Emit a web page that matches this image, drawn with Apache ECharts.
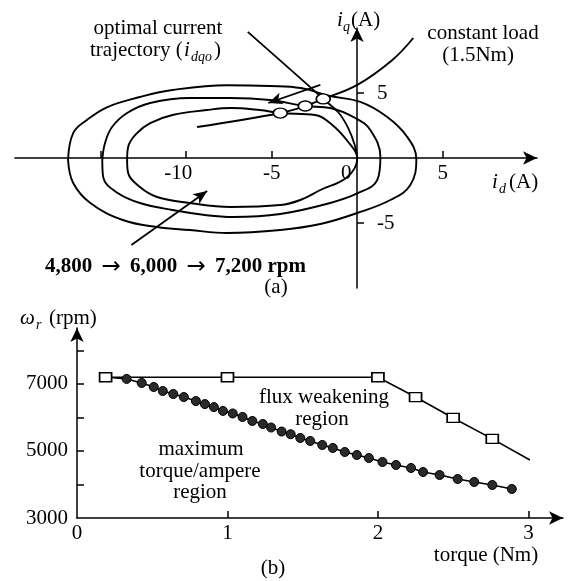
<!DOCTYPE html>
<html>
<head>
<meta charset="utf-8">
<script src="https://cdn.jsdelivr.net/npm/echarts/dist/echarts.min.js"></script>
<style>
html,body{margin:0;padding:0;background:#fff;}
#main{width:569px;height:581px;}
</style>
</head>
<body>
<div id="main"></div>
<script>
// (a) current plane: voltage limit ellipses [id, iq]
var ellipse4800 = [[-16.9,-0.15],[-16.6,1.92],[-15.8,2.92],[-14.6,3.92],[-12.7,4.69],[-10.8,5.23],[-7.6,5.6],[-5.1,5.54],[-3.3,5.38],[-1.6,4.77],[0.18,4.31],[1.75,3.15],[2.92,1.62],[3.45,-0.08],[3.1,-2.08],[1.93,-3.23],[0,-4.23],[-2.16,-5.08],[-4.5,-5.54],[-7.6,-5.77],[-9.8,-5.54],[-11.7,-5.31],[-13.7,-4.77],[-15.6,-3.46],[-16.6,-1.92],[-16.9,-0.15]];
var ellipse6000 = [[-14.9,-0.15],[-14.74,1.15],[-14.33,2.38],[-13.45,3.46],[-12.1,4.23],[-9.8,4.62],[-7.4,4.62],[-5.1,4.46],[-3.04,4.0],[-1.58,3.85],[-0.12,3.08],[0.76,2.15],[1.35,0.08],[1.17,-1.69],[0.06,-2.69],[-1.58,-3.46],[-4.5,-4.31],[-7.25,-4.54],[-8.8,-4.4],[-10.8,-4.0],[-12.7,-3.46],[-14.0,-2.69],[-14.85,-1.46],[-14.9,-0.15]];
var ellipse7200 = [[-13.45,-0.15],[-13.39,0.85],[-12.87,1.92],[-12.1,2.69],[-10.8,3.31],[-8.8,3.69],[-7.4,3.85],[-5.7,3.69],[-4.5,3.46],[-2.46,3.31],[-1.46,2.54],[-0.53,1.23],[0,0],[-0.58,-1.46],[-2.16,-2.46],[-3.33,-3.23],[-4.5,-3.62],[-7.4,-3.77],[-9.8,-3.46],[-11.7,-3.0],[-12.7,-2.23],[-13.39,-1.15],[-13.45,-0.15]];
var constantLoad = [[-9.36,2.38],[-4.5,3.46],[-3.04,4.0],[-1.99,4.54],[0,5.62],[2.05,7.54],[3.27,9.23]];
var optimalTrajectory = [[0,0],[-0.15,1.0],[-0.53,2.3],[-1.1,3.5],[-1.99,4.54],[-2.75,5.45],[-6.4,9.7]];
var operatingPoints = [[-1.99,4.54],[-3.04,4.0],[-4.5,3.46]];
var arrowTrajectory = [[-2.16,5.62],[-5.2,4.23]];
var arrowSpeed = [[-13.2,-6.7],[-8.77,-2.54]];
var idTicks = [-15,-10,-5,5];
var idLabels = [-10,-5,0,5];
var iqTicks = [-5,5];

// (b) speed vs torque
var mtpaTorque = [0.19,0.33,0.43,0.51,0.57,0.64,0.71,0.79,0.85,0.91,0.97,1.035,1.10,1.165,1.235,1.29,1.36,1.42,1.484,1.55,1.63,1.70,1.78,1.86,1.94,2.03,2.12,2.22,2.30,2.41,2.53,2.64,2.76,2.89];
var mtpaSpeed  = [7210,7150,7030,6910,6790,6700,6610,6490,6400,6310,6195,6120,6015,5896,5806,5700,5580,5500,5388,5299,5179,5090,4970,4881,4791,4672,4582,4493,4373,4284,4164,4075,3985,3866];
var fwTorque = [0.19,1.0,2.0,2.25,2.5,2.76,3.01];
var fwSpeed  = [7200,7200,7200,6610,5985,5360,4730];
var torqueTicks = [1,2,3];
var torqueLabels = [0,1,2,3];
var speedTicks = [4000,5000,6000,7000,8000];
var speedLabels = [3000,5000,7000];

var FONT = 'Liberation Serif';
var myChart = echarts.init(document.getElementById('main'), null, {renderer:'canvas'});

function pairs(xs, ys){
    var out = [];
    for (var i=0;i<xs.length;i++){ out.push([xs[i], ys[i]]); }
    return out;
}
var fwData = pairs(fwTorque, fwSpeed).map(function(p, i){
    return i === fwTorque.length-1 ? {value:p, symbol:'none'} : p;
});

function txt(x, y, s, opt){
    opt = opt || {};
    var el = {
        type:'text', x:x, y:y, silent:true,
        style:{
            text:s, fill:'#000',
            font:(opt.style||'normal')+' '+(opt.weight||'normal')+' '+(opt.size||21)+'px "'+FONT+'"',
            align:opt.align||'center', verticalAlign:'middle'
        }
    };
    if (opt.rich) el.style.rich = opt.rich;
    return el;
}

var axisCommon = {
    axisLine:{onZero:false, symbol:['none','arrow'], symbolSize:[10,14], lineStyle:{color:'#000', width:1.5}},
    axisTick:{inside:true, length:7, lineStyle:{color:'#000', width:1.5}},
    axisLabel:{color:'#000', fontFamily:FONT, fontSize:21, formatter:function(v){ return String(v); }},
    splitLine:{show:false}
};
function ax(extra){
    return echarts.util.merge(echarts.util.clone(axisCommon), extra, true);
}

var curveStyle = {color:'#000', width:1.9};

option = {
    animation:false,
    backgroundColor:'#fff',
    grid:[
        {left:15, top:28, width:522, height:260, outerBoundsMode:'none'},
        {left:77, top:328, width:486, height:190, outerBoundsMode:'none'}
    ],
    xAxis:[
        // axis drawn through iq = 0 (130px above the grid bottom)
        ax({type:'value', gridIndex:0, min:-20, max:10.5, position:'bottom', offset:-130,
            axisTick:{customValues:idTicks},
            axisLabel:{customValues:idLabels, margin:5,
                formatter:function(v){
                    if (v === 0) return '{z|0}';
                    if (v === -10) return '{t|-10}';
                    return String(v);
                },
                rich:{
                    z:{fontFamily:FONT, fontSize:21, color:'#000', padding:[0,22,0,0]},
                    t:{fontFamily:FONT, fontSize:21, color:'#000', padding:[0,16,0,0]}
                }
            }}),
        ax({type:'value', gridIndex:1, min:0, max:3.23, interval:1, position:'bottom',
            axisTick:{customValues:torqueTicks},
            axisLabel:{customValues:torqueLabels, margin:5}})
    ],
    yAxis:[
        // axis drawn through id = 0 (342px right of the grid left)
        ax({type:'value', gridIndex:0, min:-10, max:10, position:'left', offset:-342,
            axisTick:{customValues:iqTicks},
            axisLabel:{customValues:iqTicks, inside:true, margin:20}}),
        ax({type:'value', gridIndex:1, min:3000, max:8670, interval:1000, position:'left',
            axisTick:{customValues:speedTicks},
            axisLabel:{customValues:speedLabels, margin:9}})
    ],
    series:[
        {type:'line', xAxisIndex:0, yAxisIndex:0, data:ellipse4800, smooth:0.4, symbol:'none', lineStyle:curveStyle, silent:true},
        {type:'line', xAxisIndex:0, yAxisIndex:0, data:ellipse6000, smooth:0.4, symbol:'none', lineStyle:curveStyle, silent:true},
        {type:'line', xAxisIndex:0, yAxisIndex:0, data:ellipse7200, smooth:0.4, symbol:'none', lineStyle:curveStyle, silent:true},
        {type:'line', xAxisIndex:0, yAxisIndex:0, data:constantLoad, smooth:0.4, symbol:'none', lineStyle:curveStyle, silent:true},
        {type:'line', xAxisIndex:0, yAxisIndex:0, data:optimalTrajectory, smooth:0.4, symbol:'none', lineStyle:{color:'#000', width:1.8}, silent:true,
            markLine:{
                silent:true, symbol:['none','arrow'], symbolSize:[9,14],
                label:{show:false},
                lineStyle:{color:'#000', width:1.8, type:'solid'},
                data:[
                    [{coord:arrowTrajectory[0]},{coord:arrowTrajectory[1]}],
                    [{coord:arrowSpeed[0]},{coord:arrowSpeed[1]}]
                ]
            }},
        {type:'scatter', xAxisIndex:0, yAxisIndex:0, data:operatingPoints, symbol:'circle', symbolSize:[14,10],
            itemStyle:{color:'#fff', borderColor:'#000', borderWidth:1.5, opacity:1}, silent:true, z:5},
        {type:'line', xAxisIndex:1, yAxisIndex:1, data:pairs(mtpaTorque, mtpaSpeed), symbol:'circle', symbolSize:9,
            lineStyle:{color:'#000', width:1.6},
            itemStyle:{color:'#2a2a2a', borderColor:'#000', borderWidth:1}, silent:true},
        {type:'line', xAxisIndex:1, yAxisIndex:1, data:fwData, symbol:'rect', symbolSize:[12,9],
            lineStyle:{color:'#000', width:1.6},
            itemStyle:{color:'#fff', borderColor:'#000', borderWidth:1.5}, silent:true, z:3}
    ],
    graphic:[
        txt(158, 28, 'optimal current'),
        txt(90, 50, 'trajectory (', {align:'left'}),
        txt(184, 50, 'i', {align:'left', style:'italic'}),
        txt(191, 57, 'dqo', {align:'left', style:'italic', size:14}),
        txt(214, 50, ')', {align:'left'}),
        txt(483, 33, 'constant load'),
        txt(478, 55, '(1.5Nm)'),
        txt(337, 20, 'i', {align:'left', style:'italic'}),
        txt(343, 27, 'q', {align:'left', style:'italic', size:14}),
        txt(351, 20, '(A)', {align:'left'}),
        txt(492, 182, 'i', {align:'left', style:'italic'}),
        txt(499, 189, 'd', {align:'left', style:'italic', size:14}),
        txt(509, 182, '(A)', {align:'left'}),
        txt(45, 267, '4,800 {a|\u2192} 6,000 {a|\u2192} 7,200 rpm', {align:'left', weight:'bold',
            rich:{a:{font:'normal normal 23px "DejaVu Sans"', fill:'#000', padding:[0,4,0,4]}}}),
        txt(276, 287, '(a)'),
        txt(20, 318, '\u03c9', {align:'left', style:'italic'}),
        txt(36, 325, 'r', {align:'left', style:'italic', size:14}),
        txt(49, 318, '(rpm)', {align:'left'}),
        txt(324, 397, 'flux weakening'),
        txt(322, 419, 'region'),
        txt(201, 449, 'maximum'),
        txt(200, 471, 'torque/ampere'),
        txt(200, 492, 'region'),
        txt(486, 555, 'torque (Nm)'),
        txt(273, 568, '(b)')
    ]
};
myChart.setOption(option);
</script>
</body>
</html>
